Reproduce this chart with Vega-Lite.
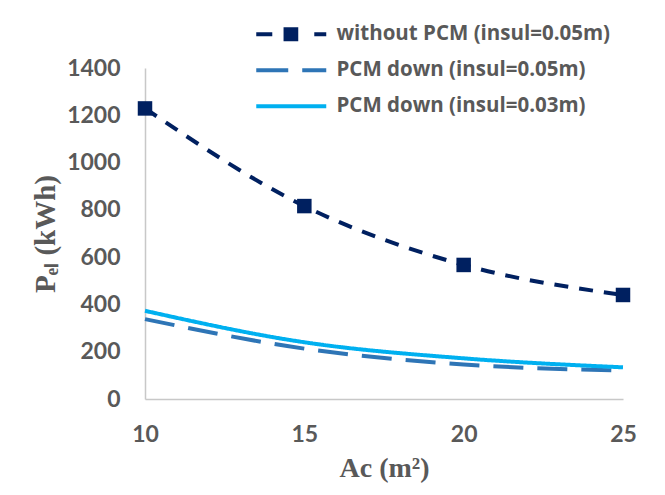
{
  "$schema": "https://vega.github.io/schema/vega-lite/v6.json",
  "width": 478,
  "height": 331,
  "autosize": {"type": "none"},
  "padding": {"left": 145, "top": 68, "right": 42, "bottom": 96},
  "background": "white",
  "config": {
    "view": {"stroke": null},
    "axis": {
      "grid": false,
      "ticks": false,
      "labelFlush": false,
      "domainColor": "#C8C8C8",
      "domainWidth": 1.5,
      "labelFont": "Lato",
      "labelFontWeight": "bold",
      "labelFontSize": 23,
      "labelColor": "#595959",
      "titleFont": "Liberation Serif",
      "titleFontWeight": "bold",
      "titleFontSize": 28,
      "titleColor": "#595959"
    }
  },
  "data": {
    "values": [
      {"x": 10, "y": 1229, "series": "without PCM (insul=0.05m)"},
      {"x": 15, "y": 816, "series": "without PCM (insul=0.05m)"},
      {"x": 20, "y": 567, "series": "without PCM (insul=0.05m)"},
      {"x": 25, "y": 440, "series": "without PCM (insul=0.05m)"},
      {"x": 10, "y": 338, "series": "PCM down (insul=0.05m)"},
      {"x": 15, "y": 213, "series": "PCM down (insul=0.05m)"},
      {"x": 20, "y": 146, "series": "PCM down (insul=0.05m)"},
      {"x": 25, "y": 120, "series": "PCM down (insul=0.05m)"},
      {"x": 10, "y": 373, "series": "PCM down (insul=0.03m)"},
      {"x": 15, "y": 240, "series": "PCM down (insul=0.03m)"},
      {"x": 20, "y": 172, "series": "PCM down (insul=0.03m)"},
      {"x": 25, "y": 134, "series": "PCM down (insul=0.03m)"}
    ]
  },
  "layer": [
    {
      "mark": {"type": "line", "interpolate": "monotone", "strokeWidth": 4},
      "encoding": {
        "x": {
          "field": "x",
          "type": "quantitative",
          "scale": {"domain": [10, 25], "nice": false, "zero": false},
          "axis": {"values": [10, 15, 20, 25], "format": "d", "labelPadding": 24, "title": "Ac (m²)", "titlePadding": 8}
        },
        "y": {
          "field": "y",
          "type": "quantitative",
          "scale": {"domain": [0, 1400], "nice": false},
          "axis": {"values": [0, 200, 400, 600, 800, 1000, 1200, 1400], "format": "d", "labelPadding": 25, "title": "Pₑₗ (kWh)", "titlePadding": 6, "titleFontSize": 29}
        },
        "color": {
          "field": "series",
          "type": "nominal",
          "sort": ["without PCM (insul=0.05m)", "PCM down (insul=0.05m)", "PCM down (insul=0.03m)"],
          "scale": {
            "domain": ["without PCM (insul=0.05m)", "PCM down (insul=0.05m)", "PCM down (insul=0.03m)"],
            "range": ["#002060", "#2E75B6", "#00B0F0"]
          },
          "legend": {
            "title": null,
            "orient": "none",
            "legendX": 164,
            "legendY": -44,
            "padding": 0,
            "labelFont": "Open Sans",
            "labelFontSize": 20.5,
            "labelFontWeight": "bold",
            "labelColor": "#595959",
            "labelLimit": 0,
            "symbolSize": 196,
            "labelOffset": 7,
            "rowPadding": 15,
            "encode": {
              "symbols": {
                "update": {
                  "shape": {"signal": "datum.value === 'without PCM (insul=0.05m)' ? 'M-9,-0.29H-6.71V0.29H-9Z M-5.1,-1H-3.0V1H-5.1Z M-0.71,-0.29H1V0.29H-0.71Z' : datum.value === 'PCM down (insul=0.05m)' ? 'M-9,-0.29H-4.43V0.29H-9Z M-2.43,-0.29H1V0.29H-2.43Z' : 'M-9,-0.29H1V0.29H-9Z'"},
                  "fill": {"signal": "datum.value === 'without PCM (insul=0.05m)' ? '#002060' : datum.value === 'PCM down (insul=0.05m)' ? '#2E75B6' : '#00B0F0'"},
                  "stroke": {"value": "transparent"},
                  "strokeWidth": {"value": 0},
                  "opacity": {"value": 1},
                  "fillOpacity": {"value": 1}
                }
              }
            }
          }
        },
        "strokeDash": {
          "field": "series",
          "type": "nominal",
          "scale": {
            "domain": ["without PCM (insul=0.05m)", "PCM down (insul=0.05m)", "PCM down (insul=0.03m)"],
            "range": [[14, 11], [30, 14], [1, 0]]
          },
          "legend": null
        }
      }
    },
    {
      "transform": [{"filter": "datum.series === 'without PCM (insul=0.05m)'"}],
      "mark": {"type": "point", "shape": "square", "filled": true, "size": 210, "opacity": 1, "color": "#002060"},
      "encoding": {
        "x": {"field": "x", "type": "quantitative"},
        "y": {"field": "y", "type": "quantitative"}
      }
    }
  ]
}
